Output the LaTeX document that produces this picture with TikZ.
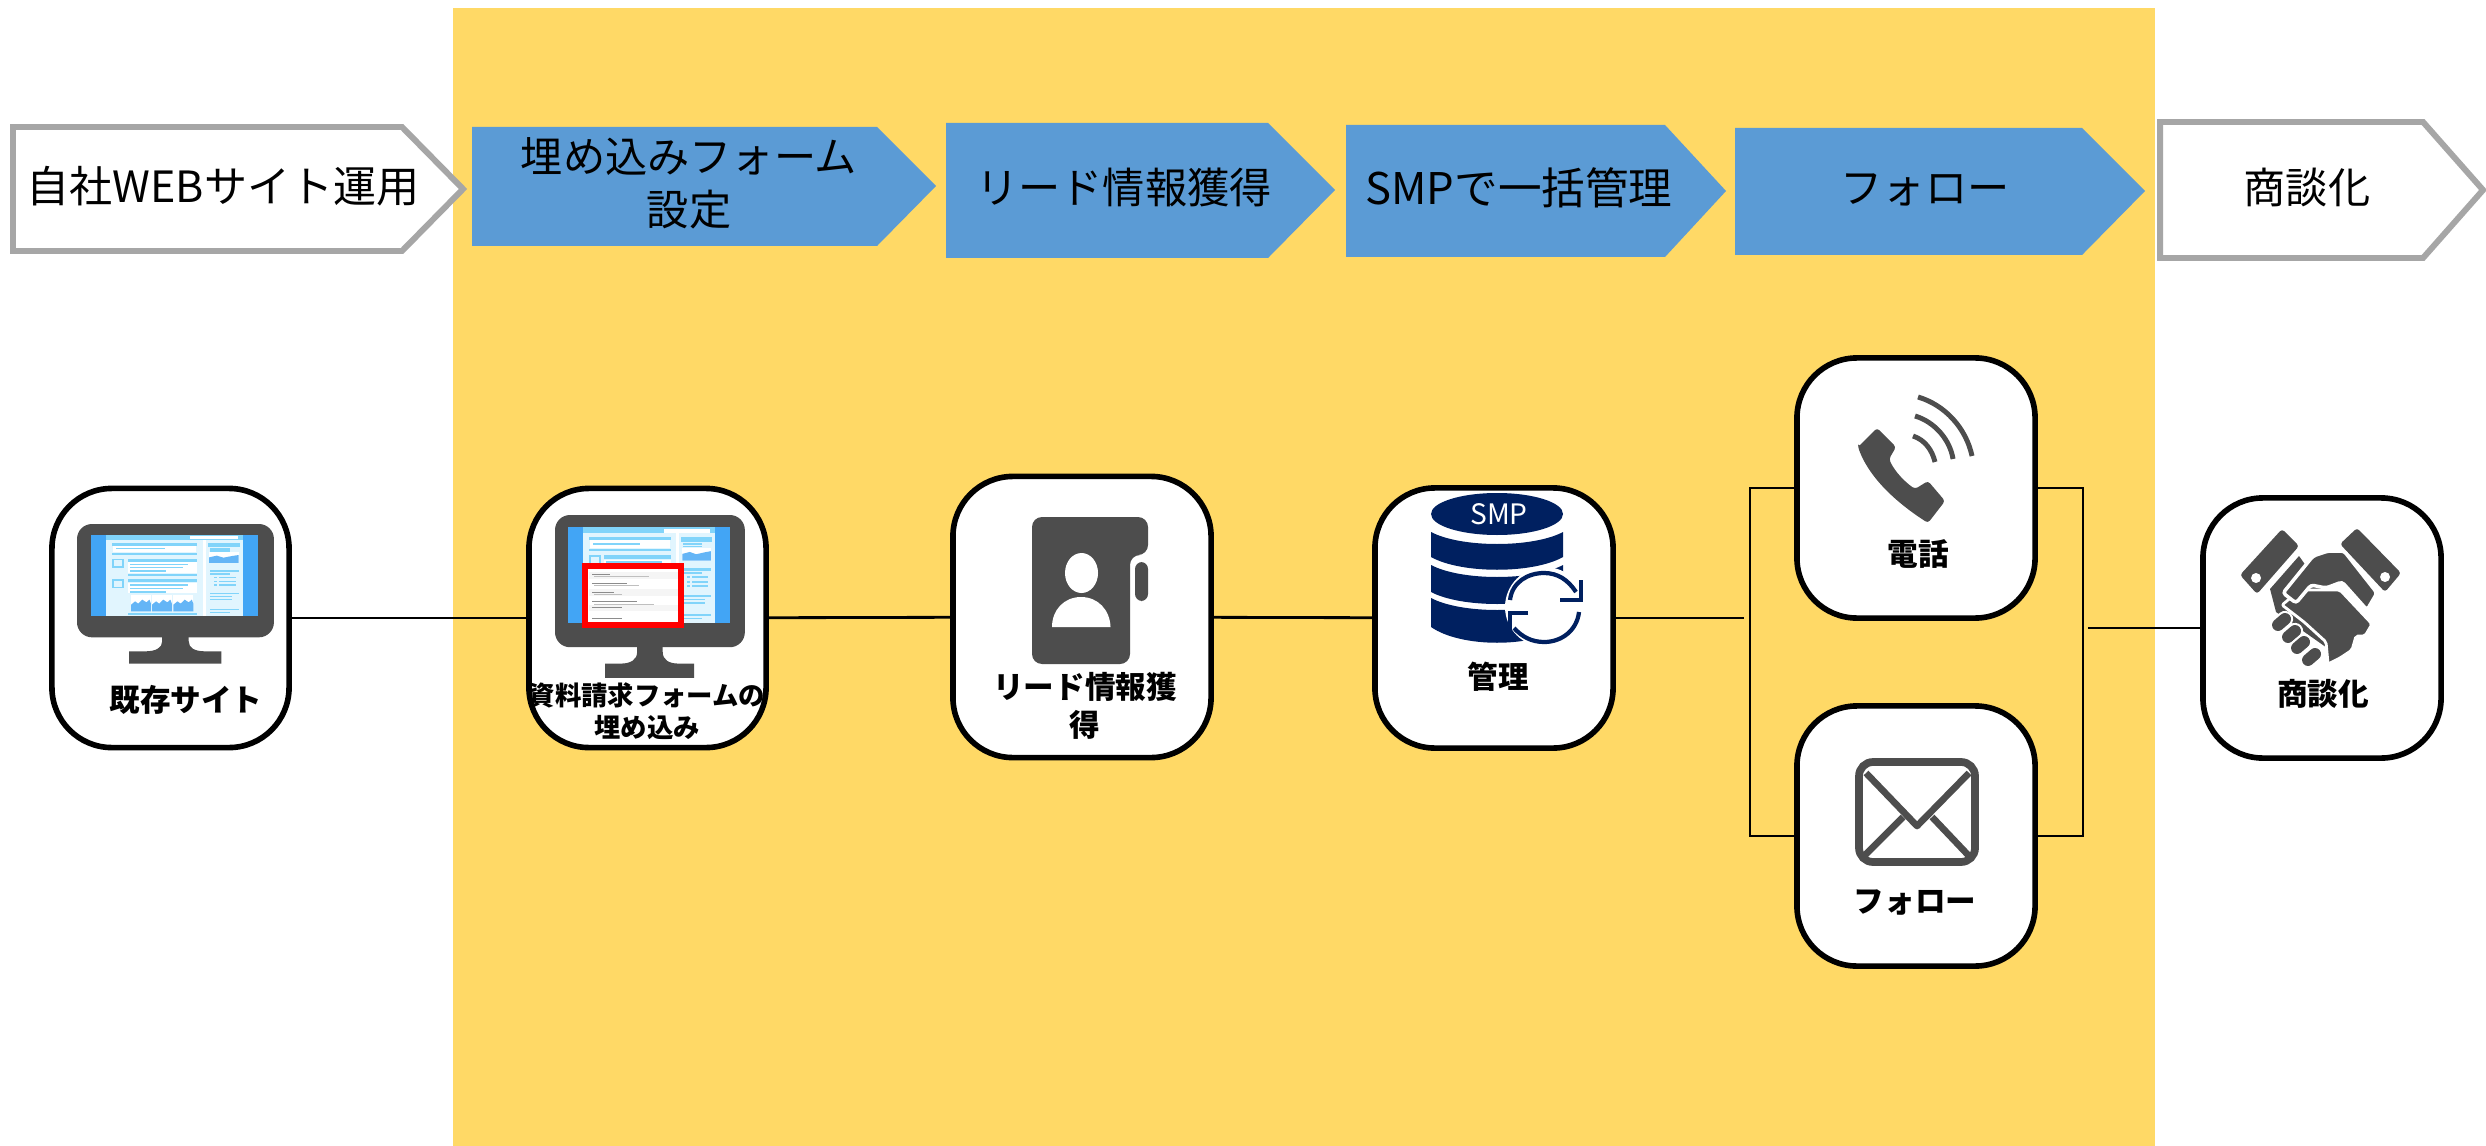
\documentclass[tikz,border=0pt]{standalone}
\usepackage{fontspec}
\setmainfont{Noto Sans CJK JP}
\definecolor{bandyellow}{HTML}{FFD966}
\definecolor{stepblue}{HTML}{5B9BD5}
\definecolor{stepgray}{HTML}{A6A6A6}
\definecolor{icongray}{HTML}{4D4D4D}
\definecolor{dbnavy}{HTML}{002060}
\definecolor{scrblue}{HTML}{42A5F5}
\definecolor{scrsky}{HTML}{81D4FA}
\definecolor{scrpale}{HTML}{E1F5FE}
\definecolor{scrchart}{HTML}{64B5F6}
\tikzset{
  card/.style={draw=black,fill=white,line width=1.6pt,rounded corners=0.6cm,inner sep=0pt,outer sep=0pt},
  link/.style={draw=black,line width=0.8pt},
  headlabel/.style={font=\fontsize{12}{15}\selectfont,align=center,inner sep=0pt},
  cardlabel/.style={font=\fontsize{8.7}{10.9}\selectfont\bfseries,align=center,inner sep=0pt},
  monitoricon/.pic={
    \begin{scope}[xscale=0.5102,yscale=0.3333,shift={(-151,-193)}]
      %% Body and stand
      \fill[icongray,rounded corners=0.15cm] (151,193) rectangle (537,533);
      \fill[icongray] (318,530) -- (318,545) .. controls (318,565) and (305,575) .. (285,575) -- (253,575) -- (253,612) -- (434,612) -- (434,575) -- (402,575) .. controls (382,575) and (370,565) .. (370,545) -- (370,530) -- cycle;
      %% Screen
      \fill[scrblue] (178,225) rectangle (506,470);
      \fill[scrpale] (208,225) rectangle (476,470);
      \fill[scrsky] (208,225) rectangle (476,240);
      \fill[white] (372,230) rectangle (466,239);
      \fill[white] (398,240) rectangle (403,470);
      \fill[white] (222,258) rectangle (385,278);
      \fill[white] (250,308) rectangle (386,340);
      \fill[white] (250,369) rectangle (386,400);
      \foreach \a/\b/\c/\d in {220/250/386/258,228/264/323/269,220/280/386/285,220/297/244/302,220/320/244/325,220/297/224/325,240/297/244/325,250/297/386/306,255/312/368/316,255/321/358/326,255/331/325/336,250/342/386/348,220/358/244/363,220/381/244/386,220/358/224/386,240/358/244/386,250/358/386/367,255/373/368/378,255/384/358/389,255/394/325/399,250/460/386/467,408/250/470/262,412/265/450/270,412/272/450/276,411/330/468/336,411/340/450/345,429/351/463/356,429/363/463/368,429/374/463/379,419/351/425/356,419/363/425/368,419/374/425/379,411/399/468/404,411/408/455/412,411/417/455/421,411/447/468/452,411/457/450/461}
        \fill[scrsky] (\a,\b) rectangle (\c,\d);
      %% Small charts
      \foreach \a in {257,298,340} {
        \fill[white] (\a,405) rectangle (\a+39,455);
        \fill[scrchart] (\a,455) -- (\a,435) -- (\a+8,425) -- (\a+14,432) -- (\a+22,420) -- (\a+30,428) -- (\a+36,420) -- (\a+39,432) -- (\a+39,455) -- cycle;
      }
      \fill[white] (410,278) rectangle (468,310);
      \fill[scrchart] (410,310) -- (410,293) -- (425,288) -- (438,294) -- (455,289) -- (468,286) -- (468,310) -- cycle;
    \end{scope}
  }
}
\begin{document}
\begin{tikzpicture}[x=0.01cm,y=-0.01cm]
  \useasboundingbox (0,0) rectangle (2486,1146);
  \fill[white] (0,0) rectangle (2486,1146);
  %% Yellow band
  \fill[bandyellow] (453,8) rectangle (2155,1146);
  %% Steps along the top
  \draw[stepgray,fill=white,line width=1.7pt] (13,127) -- (402,127) -- (463,189) -- (402,251) -- (13,251) -- cycle;
  \fill[stepblue] (472,127) -- (877,127) -- (936,186) -- (877,246) -- (472,246) -- cycle;
  \fill[stepblue] (946,123) -- (1268,123) -- (1335,190) -- (1268,258) -- (946,258) -- cycle;
  \fill[stepblue] (1346,125) -- (1665,125) -- (1726,191) -- (1665,257) -- (1346,257) -- cycle;
  \fill[stepblue] (1735,128) -- (2082,128) -- (2145,191) -- (2082,255) -- (1735,255) -- cycle;
  \draw[stepgray,fill=white,line width=1.7pt] (2160,122) -- (2423,122) -- (2483,190) -- (2423,258) -- (2160,258) -- cycle;
  \node[headlabel,font=\fontsize{12.25}{15}\selectfont] (stepsite) at (223,186) {自社WEBサイト運用};
  \node[headlabel] (stepform) at (689,183) {埋め込みフォーム\\設定};
  \node[headlabel] (steplead) at (1124,187) {リード情報獲得};
  \node[headlabel,font=\fontsize{12.4}{15}\selectfont] (stepsmp) at (1519,188) {SMPで一括管理};
  \node[headlabel] (stepfollow) at (1925,190) {フォロー};
  \node[headlabel] (stepdeal) at (2307,187) {商談化};
  %% Cards
  \node[card,minimum width=2.37cm,minimum height=2.59cm] (cardsite) at (170.5,618) {};
  \node[card,minimum width=2.37cm,minimum height=2.59cm] (cardform) at (647.5,618) {};
  \node[card,minimum width=2.58cm,minimum height=2.81cm] (cardlead) at (1082,617) {};
  \node[card,minimum width=2.38cm,minimum height=2.60cm] (cardsmp) at (1494,618) {};
  \node[card,minimum width=2.38cm,minimum height=2.60cm] (cardtel) at (1916,488) {};
  \node[card,minimum width=2.38cm,minimum height=2.60cm] (cardmail) at (1916,836) {};
  \node[card,minimum width=2.38cm,minimum height=2.60cm] (carddeal) at (2322,628) {};
  %% Connectors
  \coordinate (leftend) at (1744,618);
  \coordinate (leftbar) at (1750,662);
  \coordinate (rightbar) at (2083,662);
  \coordinate (rightend) at (2088,628);
  \draw[link] (cardsite) -- (cardform);
  \draw[link] (cardform) -- (cardlead);
  \draw[link] (cardlead) -- (cardsmp);
  \draw[link] (cardsmp) -- (leftend);
  \draw[link,line width=0.6pt] (cardtel.west) -| (leftbar) |- (cardmail.west);
  \draw[link,line width=0.6pt] (cardtel.east) -| (rightbar) |- (cardmail.east);
  \draw[link] (rightend) -- (carddeal);
  %% Monitors
  \pic at (77,524) {monitoricon};
  \pic[xscale=0.964,yscale=1.167] at (555,515) {monitoricon};
  %% Form on the second monitor
  \draw[red,fill=white,line width=1.9pt] (585,566) rectangle (681,625);
  \fill[black!4] (589,572) rectangle (678,579);
  \fill[black!4] (589,589) rectangle (678,596);
  \fill[black!4] (589,605) rectangle (678,611);
  \foreach \y/\w in {574/18,583/35,592/22,601/45,607/30,618/30}
    \draw[black!45,line width=0.2pt] (592,\y) -- (592+\w,\y);
  \foreach \y/\w in {576/55,585/45,594/28,604/60}
    \draw[black!25,line width=0.15pt] (594,\y) -- (594+\w,\y);
  %% Contact book
  \fill[icongray,rounded corners=0.1cm] (1032,517) -- (1148,517) -- (1148,555) -- (1130,555) -- (1130,664) -- (1032,664) -- cycle;
  \fill[icongray,rounded corners=0.07cm] (1135,562) -- (1148,562) -- (1148,601) -- (1135,601) -- cycle;
  \fill[white] (1081.5,573) ellipse (16.5 and 20);
  \fill[white] (1052,627) .. controls (1052,610) and (1064,597) .. (1081,597) .. controls (1098,597) and (1110,610) .. (1110.5,627) -- cycle;
  %% Database
  \fill[dbnavy] (1497,514) ellipse (66 and 21);
  \fill[dbnavy] (1431,532) .. controls (1461,548) and (1533,548) .. (1563,532) -- (1563,557) .. controls (1533,574) and (1461,574) .. (1431,557) -- cycle;
  \fill[dbnavy] (1431,565) .. controls (1461,581) and (1533,581) .. (1563,565) -- (1563,592) .. controls (1533,608) and (1461,608) .. (1431,592) -- cycle;
  \fill[dbnavy] (1431,598) .. controls (1461,614) and (1533,614) .. (1563,598) -- (1563,627) .. controls (1533,648) and (1461,648) .. (1431,627) -- cycle;
  \fill[white] (1545,607) circle (40 and 40);
  \draw[dbnavy,line width=1.2pt] (1510,600) .. controls (1512,582) and (1528,573) .. (1544,573) .. controls (1558,573) and (1568,580) .. (1576,592);
  \draw[dbnavy,line width=1.2pt] (1579,612) .. controls (1577,630) and (1562,642) .. (1544,642) .. controls (1532,642) and (1522,637) .. (1514,628);
  \draw[dbnavy,line width=1.2pt] (1581,580) -- (1581,600) -- (1560,600);
  \draw[dbnavy,line width=1.2pt] (1528,613) -- (1510,613) -- (1510,630);
  \node[text=white,font=\fontsize{8}{10}\selectfont,inner sep=0pt] (dbname) at (1499,514) {SMP};
  %% Phone
  \fill[icongray,rounded corners=0.03cm] (1858,447) -- (1877,428) -- (1896,447) -- (1889,459) .. controls (1895,472) and (1905,482) .. (1915,489) -- (1928,481) -- (1945,501) -- (1928,523) .. controls (1900,505) and (1870,480) .. (1858,447) -- cycle;
  \draw[icongray,line width=1.4pt] (1913,436) .. controls (1925,440) and (1932,450) .. (1935,462);
  \draw[icongray,line width=1.4pt] (1915,416) .. controls (1935,422) and (1950,440) .. (1953,459);
  \draw[icongray,line width=1.4pt] (1918,397) .. controls (1945,405) and (1966,428) .. (1972,456);
  %% Mail
  \draw[icongray,line width=2.2pt,rounded corners=0.14cm] (1859,762) rectangle (1975,862);
  \draw[icongray,line width=1.9pt,line join=round] (1866,773) -- (1917,826) -- (1969,773);
  \draw[icongray,line width=1.9pt] (1864,856) -- (1903,817);
  \draw[icongray,line width=1.9pt] (1969,856) -- (1932,817);
  %% Handshake
  \fill[icongray,rounded corners=0.03cm] (2282,529) -- (2299,546) -- (2257,594) -- (2240,575) -- cycle;
  \fill[white] (2256,578) circle (5 and 5);
  \fill[icongray,rounded corners=0.03cm] (2357,528) -- (2340,544) -- (2385,592) -- (2401,573) -- cycle;
  \fill[white] (2385,577) circle (5 and 5);
  \fill[icongray] (2299,556) -- (2270,589) -- (2276,612) -- (2330,650) -- (2330,600) -- cycle;
  \draw[white,fill=icongray,line width=0.8pt,rounded corners=0.02cm] (2340,590) -- (2372,624) -- (2365,636) -- (2356,636) -- (2352,650) -- (2340,658) -- (2328,664) -- (2326,642) -- (2304,622) -- (2282,605) -- (2300,590) -- cycle;
  \draw[white,fill=icongray,line width=1pt,rounded corners=0.03cm] (2313,556) -- (2328,551) -- (2344,551) -- (2377,593) -- (2367,610) -- (2342,582) -- (2326,588) -- (2311,585) -- (2296,603) -- (2283,593) -- cycle;
  \foreach \a/\b in {2282/622,2292/634,2301/645,2312/657} {
    \draw[white,line width=4.6pt,line cap=round] (\a-4,\b+3) -- (\a+3,\b-3);
    \draw[icongray,line width=3.4pt,line cap=round] (\a-4,\b+3) -- (\a+3,\b-3);
  }
  %% Card labels
  \node[cardlabel] (labelsite) at (186,700) {既存サイト};
  \node[cardlabel,font=\fontsize{7.5}{9}\selectfont\bfseries] (labelform) at (647,711) {資料請求フォームの\\埋め込み};
  \node[cardlabel] (labellead) at (1085,706) {リード情報獲\\得};
  \node[cardlabel] (labelsmp) at (1498,677) {管理};
  \node[cardlabel] (labeltel) at (1918,554) {電話};
  \node[cardlabel] (labelmail) at (1915,903) {フォロー};
  \node[cardlabel] (labeldeal) at (2323,694) {商談化};
\end{tikzpicture}
\end{document}
